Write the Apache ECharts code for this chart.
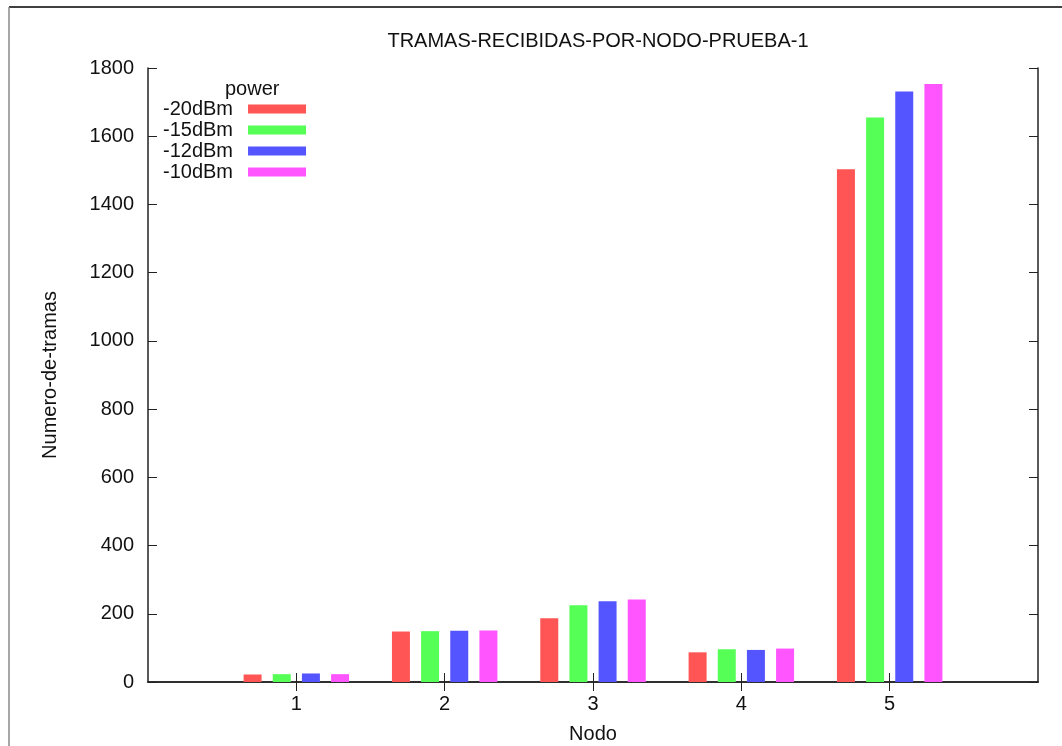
<!DOCTYPE html>
<html>
<head>
<meta charset="utf-8">
<script src="https://cdn.jsdelivr.net/npm/echarts@6/dist/echarts.min.js"></script>
<style>
  html, body { margin: 0; padding: 0; background: #fff; }
  #chart { width: 1062px; height: 746px; }
</style>
</head>
<body>
<div id="chart"></div>
<script>
// 数据
const nodos = ["1", "2", "3", "4", "5"];
const serieNames = ["-20dBm", "-15dBm", "-12dBm", "-10dBm"];
const p20 = [22, 148, 187, 87, 1503];
const p15 = [23, 149, 225, 96, 1655];
const p12 = [25, 150, 237, 94, 1731];
const p10 = [23, 151, 242, 98, 1753];
const yTicks = { min: 0, max: 1800, interval: 200 };

const colors = ["#ff5555", "#55ff55", "#5555ff", "#ff55ff"];
const fontFam = "Liberation Sans, Arial, sans-serif";

// x轴 0..6，节点在 1..5
const xData = [""].concat(nodos, [""]);
const pad = (arr) => [null].concat(arr, [null]);

const myChart = echarts.init(document.getElementById("chart"));

const tickOnNodes = (index) => index > 0 && index < xData.length - 1;

const seriesData = [p20, p15, p12, p10].map((vals, i) => ({
  type: "bar",
  name: serieNames[i],
  data: pad(vals),
  barWidth: 18,
  barGap: "62%",
  itemStyle: { color: colors[i] },
  silent: true,
}));

const axisLine = { show: true, lineStyle: { color: "#222", width: 1.5 } };

const option = {
  backgroundColor: "#fff",
  animation: false,
  textStyle: { fontFamily: fontFam },
  title: {
    text: "TRAMAS-RECIBIDAS-POR-NODO-PRUEBA-1",
    left: 593,
    top: 26,
    textAlign: "center",
    textStyle: { fontFamily: fontFam, fontSize: 20, fontWeight: "normal", color: "#111" },
  },
  grid: { left: 148, right: 24, top: 68, bottom: 64, containLabel: false, outerBoundsMode: "none" },
  legend: {
    orient: "vertical",
    left: 158,
    top: 94,
    align: "right",
    itemWidth: 58,
    itemHeight: 9,
    itemGap: 1,
    icon: "rect",
    selectedMode: false,
    textStyle: { fontFamily: fontFam, fontSize: 20, color: "#111", lineHeight: 20, padding: [0, 10, 0, 0] },
    data: serieNames,
  },
  xAxis: [
    {
      type: "category",
      data: xData,
      boundaryGap: false,
      name: "Nodo",
      nameLocation: "middle",
      nameGap: 42,
      nameTextStyle: { fontFamily: fontFam, fontSize: 20, color: "#111" },
      axisLine: axisLine,
      axisTick: { inside: true, length: 9, interval: tickOnNodes, lineStyle: { color: "#222" } },
      axisLabel: { fontFamily: fontFam, fontSize: 20, color: "#111", margin: 12, interval: 0 },
      splitLine: { show: false },
    },
    {
      type: "category",
      data: xData,
      boundaryGap: false,
      position: "top",
      axisLine: axisLine,
      axisTick: { inside: true, length: 9, interval: tickOnNodes, lineStyle: { color: "#222" } },
      axisLabel: { show: false },
      splitLine: { show: false },
    },
  ],
  yAxis: [
    {
      type: "value",
      min: yTicks.min,
      max: yTicks.max,
      interval: yTicks.interval,
      name: "Numero-de-tramas",
      nameLocation: "middle",
      nameGap: 88,
      nameTextStyle: { fontFamily: fontFam, fontSize: 20, color: "#111" },
      axisLine: axisLine,
      axisTick: { show: true, inside: true, length: 9, lineStyle: { color: "#222" } },
      axisLabel: { fontFamily: fontFam, fontSize: 20, color: "#111", margin: 14, formatter: (v) => String(v) },
      splitLine: { show: false },
    },
    {
      type: "value",
      min: yTicks.min,
      max: yTicks.max,
      interval: yTicks.interval,
      position: "right",
      axisLine: axisLine,
      axisTick: { show: true, inside: true, length: 9, lineStyle: { color: "#222" } },
      axisLabel: { show: false },
      splitLine: { show: false },
    },
  ],
  graphic: [
    // 外框
    { type: "line", shape: { x1: 9, y1: 7, x2: 1062, y2: 7 }, style: { stroke: "#000", lineWidth: 1.5 } },
    { type: "line", shape: { x1: 9, y1: 7, x2: 9, y2: 746 }, style: { stroke: "#888", lineWidth: 1.5 } },
    {
      type: "text",
      left: 225,
      top: 79,
      style: { text: "power", font: "20px " + fontFam, fill: "#111" },
    },
  ],
  series: seriesData,
};

option && myChart.setOption(option);
</script>
</body>
</html>
